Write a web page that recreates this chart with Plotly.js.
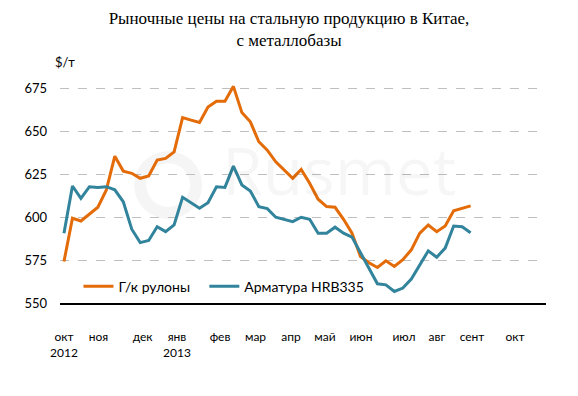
<!DOCTYPE html>
<html>
<head>
<meta charset="utf-8">
<script src="https://cdn.plot.ly/plotly-3.0.1.min.js"></script>
<style>html,body{margin:0;padding:0;background:#fff;}#chart{width:578px;height:396px;}</style>
</head>
<body>
<div id="chart"></div>
<script>
// Weekly index (0 = first week of Oct 2012)
var weeks = [];
for (var k = 0; k < 49; k++) weeks.push(k);

var hrcName = "Г/к рулоны";
var hrcValues = [574.2, 599.4, 597.8, 601.9, 605.8, 615.9, 635.6, 626.9, 625.6, 622.7,
                 624.0, 633.3, 634.3, 638.1, 658.1, 656.6, 655.2, 664.3, 667.6, 667.6,
                 676.3, 661.0, 655.6, 644.0, 639.1, 632.3, 627.5, 622.7, 627.9, 619.8,
                 610.5, 606.2, 605.8, 598.8, 590.7, 577.1, 573.5, 570.7, 574.6, 571.3,
                 575.2, 581.0, 590.7, 595.5, 591.6, 594.9, 603.8, 605.2, 606.6];

var rebarName = "Арматура HRB335";
var rebarValues = [590.7, 618.2, 611.0, 617.8, 617.4, 617.8, 616.0, 609.0, 593.0, 585.2,
                   586.4, 594.5, 591.6, 595.5, 611.6, 608.5, 605.2, 608.5, 617.8, 617.4,
                   629.8, 618.8, 615.3, 606.2, 605.0, 600.0, 598.7, 597.4, 600.0, 598.8,
                   590.7, 590.7, 594.2, 590.7, 588.4, 579.0, 570.3, 561.2, 560.6, 556.7,
                   558.7, 564.0, 572.3, 580.4, 576.7, 582.0, 594.9, 594.5, 591.0];

var monthTickPos = [0, 4.07, 9.28, 13.34, 18.42, 22.61, 26.8, 30.8, 35.06, 40.14, 44.04, 48.17, 53.25];
var monthTickText = ["окт<br>2012", "ноя", "дек", "янв<br>2013", "фев", "мар", "апр", "май", "июн", "июл", "авг", "сент", "окт"];

var yTicks = [550, 575, 600, 625, 650, 675];

var titleText = "Рыночные цены на стальную продукцию в Китае,<br>с металлобазы";
var unitText = "$/т";

var traces = [
  {x: weeks, y: hrcValues, name: hrcName, type: "scatter", mode: "lines",
   line: {color: "#E36C09", width: 3}, legend: "legend"},
  {x: weeks, y: rebarValues, name: rebarName, type: "scatter", mode: "lines",
   line: {color: "#31849B", width: 3}, legend: "legend2"}
];

var legendCommon = {orientation: "h", xanchor: "left", y: 0.073, yanchor: "middle",
                    bgcolor: "rgba(0,0,0,0)", font: {size: 14, color: "#000"}};

var layout = {
  width: 578, height: 396,
  margin: {l: 60, r: 32, t: 80, b: 93, pad: 0},
  paper_bgcolor: "#ffffff", plot_bgcolor: "#ffffff",
  font: {family: "Lato, 'Liberation Sans', sans-serif", size: 12, color: "#000"},
  title: {text: titleText, x: 0.5, xref: "container", xanchor: "center",
          y: 0.94, yref: "container", yanchor: "top",
          font: {family: "'Liberation Serif', 'DejaVu Serif', serif", size: 17, color: "#000"}},
  showlegend: true,
  legend: Object.assign({x: 0.038}, legendCommon),
  legend2: Object.assign({x: 0.297}, legendCommon),
  xaxis: {range: [-0.47, 56.9], tickmode: "array", tickvals: monthTickPos, ticktext: monthTickText,
          showgrid: false, zeroline: false, showline: true, linecolor: "#000", linewidth: 1.5,
          ticks: "", ticklabelstandoff: 22, tickfont: {size: 12, color: "#000"}, fixedrange: true},
  yaxis: {range: [550, 680], tickmode: "array", tickvals: yTicks,
          showgrid: true, gridcolor: "#bfbfbf", griddash: "dash", gridwidth: 1,
          zeroline: false, showline: false, ticks: "", ticklabelstandoff: 12,
          tickfont: {size: 13, color: "#000"}, fixedrange: true},
  shapes: [
    {type: "circle", xref: "paper", yref: "paper", x0: 0.165, x1: 0.28, y0: 0.404, y1: 0.654,
     line: {color: "#f5f5f5", width: 12}, layer: "below"}
  ],
  annotations: [
    {text: unitText, xref: "paper", yref: "paper", x: -0.015, y: 1.08, xanchor: "left", yanchor: "middle",
     showarrow: false, font: {size: 13, color: "#000"}},
    {text: "Rusmet", xref: "paper", yref: "paper", x: 0.575, y: 0.6, xanchor: "center", yanchor: "middle",
     showarrow: false, font: {size: 66, color: "rgba(0,0,0,0.035)", family: "'Open Sans', sans-serif"}}
  ]
};

Plotly.newPlot("chart", traces, layout, {staticPlot: true, displayModeBar: false});
</script>
</body>
</html>
